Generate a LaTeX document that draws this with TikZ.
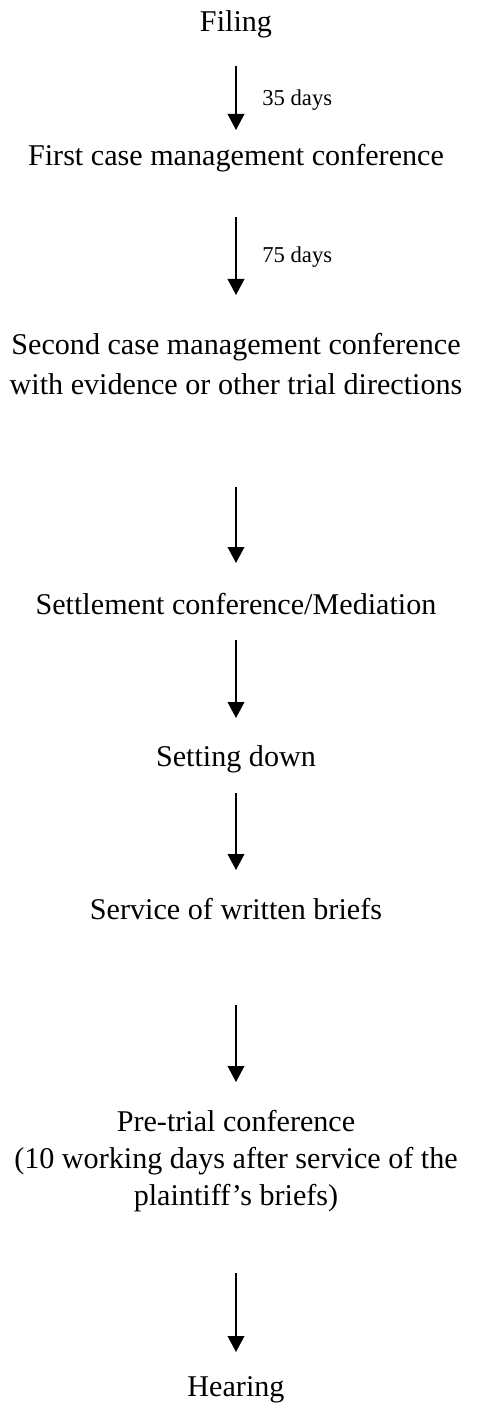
\documentclass[tikz,border=0pt]{standalone}
\usepackage{fontspec}
\setmainfont{Liberation Serif}
\usetikzlibrary{arrows.meta}

\begin{document}
\begin{tikzpicture}[x=0.75pt,y=0.75pt,yscale=-1,xscale=1,
  stage/.style={inner sep=0.75pt,align=center,font=\fontsize{22.6}{29.5}\selectfont},
  gap/.style={anchor=west,inner sep=0.75pt,font=\fontsize{17}{20}\selectfont},
  flow/.style={line width=1.1pt,-{Triangle[width=12.5pt,length=12pt]}}]
\useasboundingbox (0,0) rectangle (488,1408);

% Text Node
\node (filing) at (236,24) [stage] {Filing};
% Text Node
\node (first) at (236,158) [stage] {First case management conference};
% Text Node
\node (second) at (236,364) [stage] {Second case management conference\\with evidence or other trial directions};
% Text Node
\node (settle) at (236,604) [stage] {Settlement conference/Mediation};
% Text Node
\node (setdown) at (236,759) [stage] {Setting down};
% Text Node
\node (briefs) at (236,909) [stage] {Service of written briefs};
% Text Node
\node (pretrial) at (236,1161) [stage, font=\fontsize{22.6}{27.75}\selectfont] {Pre-trial conference\\(10 working days after service of the\\plaintiff’s briefs)};
% Text Node
\node (hearing) at (236,1390) [stage] {Hearing};

% Text Node
\node (d35) at (261,100) [gap] {35 days};
% Text Node
\node (d75) at (261,257) [gap] {75 days};

%Straight Lines
\draw [flow, shorten <=31.5pt, shorten >=21pt] (filing.center) -- (first.center);
\draw [flow, shorten <=44pt, shorten >=51.75pt] (first.center) -- (second.center);
\draw [flow, shorten <=92.25pt, shorten >=30.75pt] (second.center) -- (settle.center);
\draw [flow, shorten <=27pt, shorten >=30.75pt] (settle.center) -- (setdown.center);
\draw [flow, shorten <=25.5pt, shorten >=29.25pt] (setdown.center) -- (briefs.center);
\draw [flow, shorten <=72pt, shorten >=59.25pt] (briefs.center) -- (pretrial.center);
\draw [flow, shorten <=84pt, shorten >=28.5pt] (pretrial.center) -- (hearing.center);

\end{tikzpicture}
\end{document}
